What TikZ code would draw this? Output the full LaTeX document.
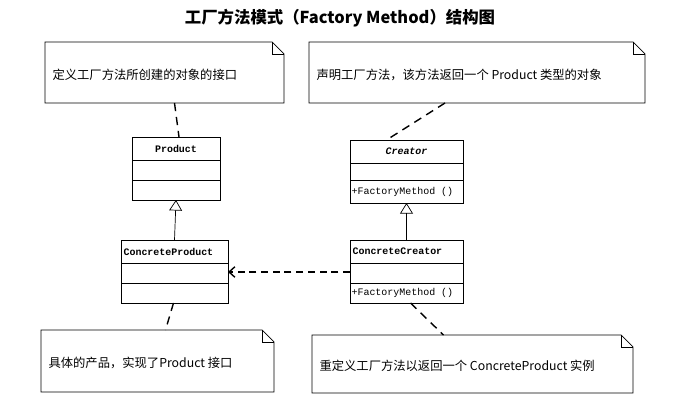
\documentclass[tikz,border=0pt]{standalone}
\usepackage{fontspec}
\setmainfont{Noto Sans CJK SC}
\newfontfamily\clsfont{Liberation Mono}
\usetikzlibrary{positioning, calc, arrows.meta}
\tikzset{Inherit/.style = {-{Triangle[open, length=9pt, width=11pt]}, semithick},
	Depend/.style = {-{Straight Barb[length=5pt, width=9pt]}, dashed, very thick, dash pattern=on 6pt off 4pt}}
\begin{document}
\begin{tikzpicture}[x=0.03cm, y=-0.03cm,
				classbox/.style = {draw, semithick, fill=white},
				note/.style = {draw, semithick},
				anchorline/.style = {very thick, dash pattern=on 7pt off 5pt},
				lbl/.style = {font=\clsfont\fontsize{8.5}{10}\selectfont, inner sep=2pt},
			]
			\useasboundingbox (0,0) rectangle (681,402);
			\node[font=\bfseries\fontsize{14}{16}\selectfont](title) at (340,18){工厂方法模式（Factory Method）结构图};

			% notes with folded corner
			\foreach \nm/\xa/\ya/\xb/\yb/\txt in {
				NPr/45/42/284/103/{定义工厂方法所创建的对象的接口},
				NCr/309/42/645/103/{声明工厂方法，该方法返回一个 Product 类型的对象},
				NCp/41/330/274/392/{具体的产品，实现了Product 接口},
				NCc/312/335/633/393/{重定义工厂方法以返回一个 ConcreteProduct 实例}}{
				\draw[note] (\xa,\ya) -- (\xb-12,\ya) -- (\xb,\ya+12) -- (\xb,\yb) -- (\xa,\yb) -- cycle;
				\draw[note] (\xb-12,\ya) -- (\xb-12,\ya+12) -- (\xb,\ya+12);
				\node[anchor=west, inner sep=2pt, font=\fontsize{10.5}{12}\selectfont](\nm) at (\xa+5,{(\ya+\yb)/2+2}){\txt};
				\coordinate(\nm-n) at ({(\xa+\xb)/2},\ya);
				\coordinate(\nm-s) at ({(\xa+\xb)/2},\yb);
			}

			% classes
			\foreach \nm/\xa/\ya/\xb/\ta/\tb/\txt/\op/\pos in {
				Pr/132/137/220/160/180/{\bfseries Product}/{}/c,
				Cr/350/140/463/163/180/{\bfseries\itshape Creator}/{+FactoryMethod ()}/c,
				Cp/121/240/228/263/283/{\bfseries ConcreteProduct}/{}/w,
				Cc/350/240/463/263/283/{\bfseries ConcreteCreator}/{+FactoryMethod ()}/w}{
				\draw[classbox] (\xa,\ya) rectangle (\xb,\ya+63);
				\draw[semithick] (\xa,\ta) -- (\xb,\ta) (\xa,\tb) -- (\xb,\tb);
				\if w\pos
					\node[lbl, anchor=west](\nm) at (\xa,{(\ya+\ta)/2}){\txt};
				\else
					\node[lbl](\nm) at ({(\xa+\xb)/2},{(\ya+\ta)/2}){\txt};
				\fi
				\node[lbl, anchor=west](\nm-op) at (\xa-1,{(\tb+\ya+63)/2}){\op};
				\coordinate(\nm-n) at ({(\xa+\xb)/2},\ya);
				\coordinate(\nm-s) at ({(\xa+\xb)/2},\ya+63);
				\coordinate(\nm-w) at (\xa,272);
				\coordinate(\nm-e) at (\xb,272);
			}

			\draw[Inherit](Cp-n)--(Pr-s);
			\draw[Inherit](Cc-n)--(Cr-s);
			\draw[Depend](Cc-w)--(Cp-e);

			\draw[anchorline]($(NPr-s)+(10,0)$)--($(Pr-n)+(3,0)$);
			\draw[anchorline]($(NCr-s)+(-32,0)$)--($(Cr-n)+(-20,0)$);
			\draw[anchorline]($(Cp-s)+(-1,0)$)--($(NCp-n)+(8,0)$);
			\draw[anchorline]($(Cc-s)+(4,0)$)--($(NCc-n)+(-29,0)$);
		\end{tikzpicture}
\end{document}
